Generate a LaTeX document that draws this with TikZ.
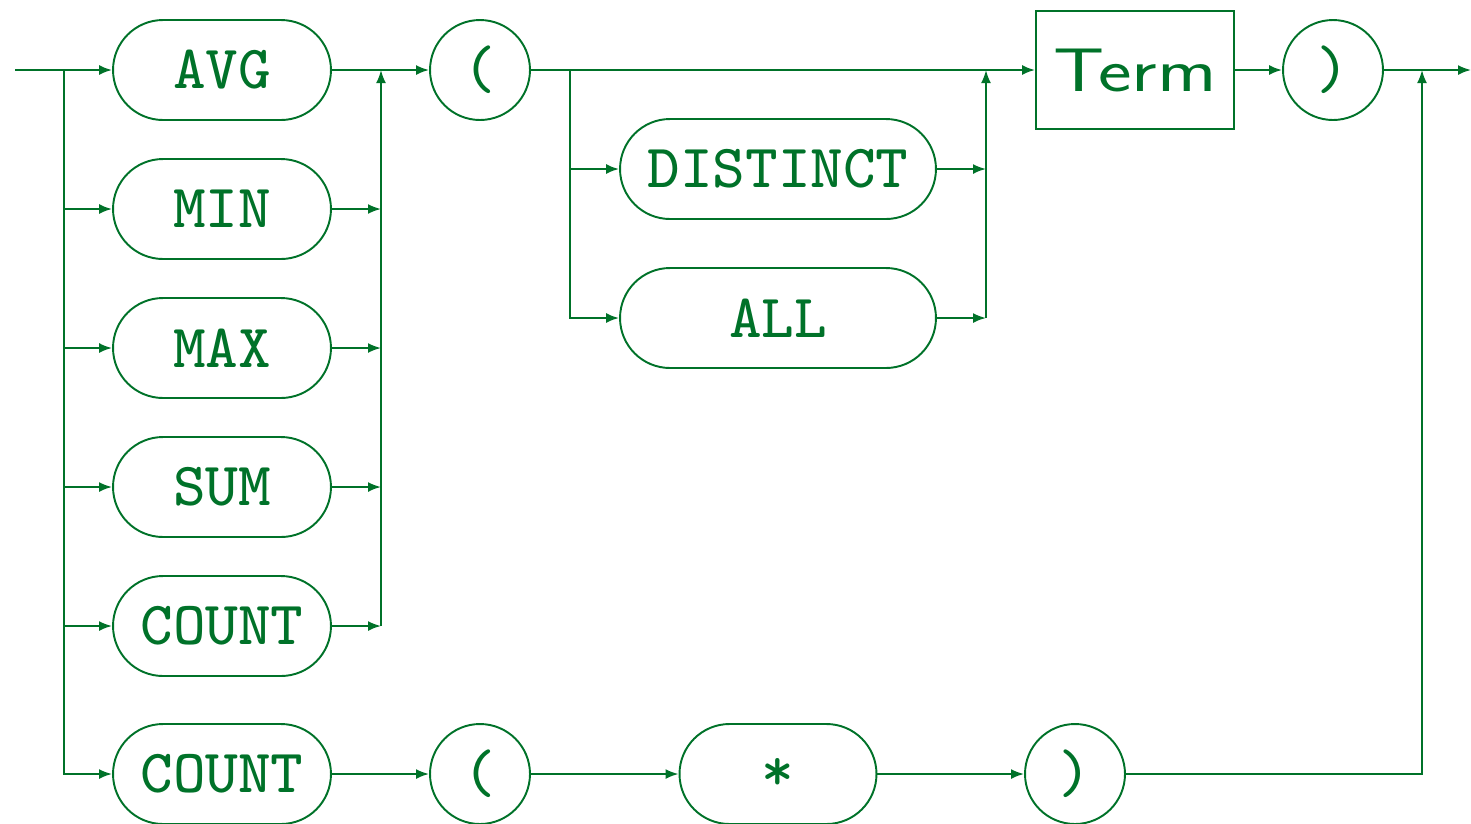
\documentclass[tikz,border=0pt]{standalone}
\usepackage{fontspec}
\usetikzlibrary{arrows.meta}

\newfontfamily\kwfont{lmmono8-regular.otf}
\newfontfamily\termfont{lmsans17-regular.otf}
\definecolor{sqlgreen}{RGB}{0,114,41}

\tikzset{
  kw/.style={draw,rounded corners=1cm,minimum height=2cm,minimum width=4.36cm,
    inner sep=0pt,font=\fontsize{35}{40}\kwfont},
  par/.style={draw,circle,minimum size=2cm,inner sep=0pt,
    font=\fontsize{35}{40}\kwfont},
  nterm/.style={draw,rectangle,minimum width=3.96cm,minimum height=2.36cm,
    inner sep=0pt,font=\fontsize{35}{40}\termfont},
  go/.style={-{Latex[length=0.26cm,width=0.2cm]}}
}

\begin{document}
\begin{tikzpicture}[x=0.02cm,y=-0.02cm,line width=1.1pt,sqlgreen]
\useasboundingbox (0,0) rectangle (1471,823);

\coordinate (in) at (15,70);
\coordinate (out) at (1471,70);
\coordinate (S) at (64,70); % left split.
\coordinate (M) at (381,70); % first merge.
\coordinate (S2) at (570,70);
\coordinate (M2) at (986,70);
\coordinate (M3) at (1422,70); % right merge.

\node[kw] (avg) at (222,70) {AVG};
\node[kw] (min) at (222,209) {MIN};
\node[kw] (max) at (222,348) {MAX};
\node[kw] (sum) at (222,487) {SUM};
\node[kw] (count) at (222,626) {COUNT};
\node[par] (lp) at (480,70) {(};
\node[kw,minimum width=6.32cm] (distinct) at (778,169) {DISTINCT};
\node[kw,minimum width=6.32cm] (all) at (778,318) {ALL};
\node[nterm] (term) at (1135,70) {\scalebox{1.3}[1]{Term}};
\node[par] (rp) at (1333,70) {)};

% lower row.
\node[kw] (cnt) at (222,774) {COUNT};
\node[par] (lpb) at (480,774) {(};
\node[kw,minimum width=3.94cm] (star) at (778,774) {*};
\node[par] (rpb) at (1075,774) {)};

\draw[go] (in)--(avg);
\foreach \n in {min,max,sum,count,cnt}
  \draw[go] (S) |- (\n);
\foreach \n in {min,max,sum,count}
  \draw[go] (\n.east) -- (\n.east -| M);
\draw[go] (count.east -| M) -- (M);
\draw[go] (avg)--(lp);

\draw[go] (lp)--(term);
\draw[go] (S2) |- (distinct);
\draw[go] (S2) |- (all);
\draw[go] (distinct.east) -- (distinct.east -| M2);
\draw[go] (all.east) -- (all.east -| M2);
\draw[go] (all.east -| M2) -- (M2);
\draw[go] (term)--(rp);
\draw[go] (rp)--(out);

\draw[go] (cnt)--(lpb);
\draw[go] (lpb)--(star);
\draw[go] (star)--(rpb);
\draw[go] (rpb) -| (M3);

\end{tikzpicture}
\end{document}
